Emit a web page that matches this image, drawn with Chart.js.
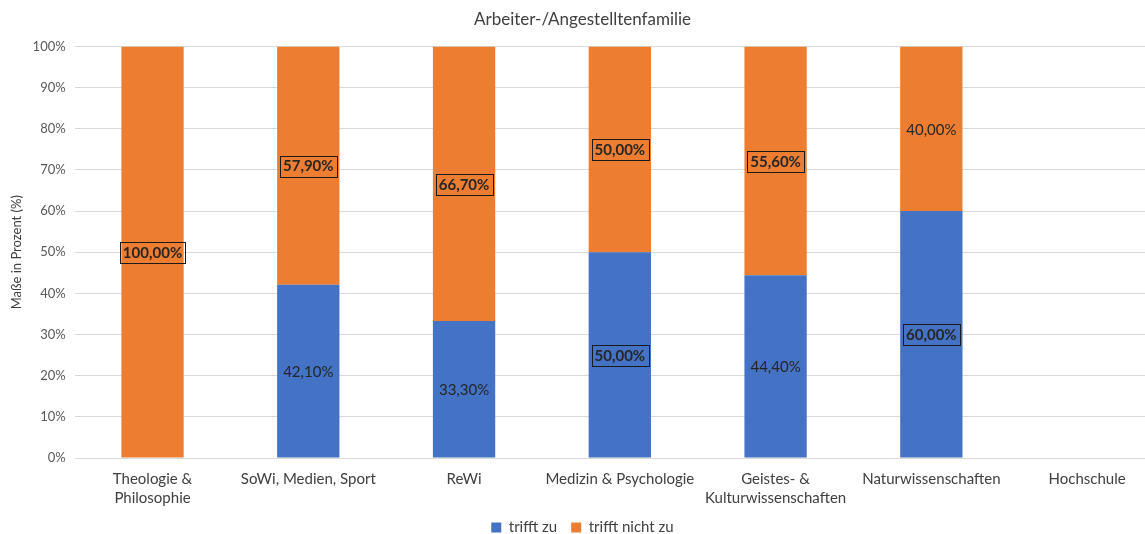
<!DOCTYPE html>
<html>
<head>
<meta charset="utf-8">
<script src="https://cdn.jsdelivr.net/npm/chart.js@4"></script>
<style>
  html, body { margin: 0; padding: 0; background: #fff; overflow: hidden; }
  #wrap { width: 1165px; height: 534px; }
</style>
</head>
<body>
<div id="wrap"><canvas id="familyChart" width="1165" height="534"></canvas></div>
<script>
const categories = [
    ['Theologie &', 'Philosophie'],
    'SoWi, Medien, Sport',
    'ReWi',
    'Medizin & Psychologie',
    ['Geistes- &', 'Kulturwissenschaften'],
    'Naturwissenschaften',
    'Hochschule'
];
const trifftZu = [0, 42.1, 33.3, 50, 44.4, 60, null];
const trifftNichtZu = [100, 57.9, 66.7, 50, 55.6, 40, null];
// which labels get the bold framed look
const boxedZu = [false, false, false, true, false, true, false];
const boxedNichtZu = [true, true, true, true, true, false, false];
const yTicks = [0, 10, 20, 30, 40, 50, 60, 70, 80, 90, 100];

const FONT = 'Lato, "Open Sans", sans-serif';

const fmt = v => v.toFixed(2).replace('.', ',') + '%';

const valueLabels = {
    id: 'valueLabels',
    afterDatasetsDraw(chart) {
        const ctx = chart.ctx;
        chart.data.datasets.forEach((ds, di) => {
            const meta = chart.getDatasetMeta(di);
            meta.data.forEach((bar, i) => {
                const v = ds.data[i];
                if (v === null || v === 0) return;
                const p = bar.getCenterPoint();
                const boxed = ds.boxed[i];
                const text = fmt(v);
                ctx.save();
                ctx.font = (boxed ? 'bold ' : '') + '15px ' + FONT;
                ctx.textAlign = 'center';
                ctx.textBaseline = 'middle';
                ctx.fillStyle = '#262626';
                ctx.fillText(text, p.x, p.y + 1);
                if (boxed) {
                    const w = ctx.measureText(text).width + 6;
                    ctx.strokeStyle = '#1a1a1a';
                    ctx.lineWidth = 1;
                    ctx.strokeRect(Math.round(p.x - w / 2) + 0.5, Math.round(p.y - 10) + 0.5, Math.round(w), 21);
                }
                ctx.restore();
            });
        });
    }
};

new Chart(document.getElementById('familyChart').getContext('2d'), {
    type: 'bar',
    data: {
        labels: categories,
        datasets: [{
            label: 'trifft zu',
            data: trifftZu,
            boxed: boxedZu,
            backgroundColor: '#4472c4',
            barPercentage: 0.4,
            categoryPercentage: 1
        }, {
            label: 'trifft nicht zu',
            data: trifftNichtZu,
            boxed: boxedNichtZu,
            backgroundColor: '#ed7d31',
            barPercentage: 0.4,
            categoryPercentage: 1
        }]
    },
    options: {
        responsive: false,
        animation: false,
        layout: { padding: { left: 0, right: 0, top: 7, bottom: -11 } },
        plugins: {
            title: {
                display: true,
                text: 'Arbeiter-/Angestelltenfamilie',
                color: '#404040',
                font: { family: FONT, size: 17, weight: 'normal' },
                padding: { top: 2, bottom: 17 }
            },
            legend: {
                position: 'bottom',
                labels: {
                    color: '#404040',
                    font: { family: FONT, size: 15 },
                    boxWidth: 10,
                    boxHeight: 10,
                    padding: 14
                }
            },
            tooltip: { enabled: false }
        },
        scales: {
            x: {
                stacked: true,
                grid: { display: false, drawTicks: false },
                border: { display: false },
                ticks: {
                    color: '#404040',
                    font: { family: FONT, size: 15, lineHeight: 1.3 },
                    maxRotation: 0,
                    autoSkip: false,
                    padding: 11
                },
                // tighten the gap between the two-line labels and the legend
                afterFit: scale => { scale.height -= 13; }
            },
            y: {
                stacked: true,
                min: 0,
                max: 100,
                afterBuildTicks: axis => { axis.ticks = yTicks.map(v => ({ value: v })); },
                grid: { color: '#d9d9d9', drawTicks: false },
                border: { display: false },
                ticks: {
                    color: '#595959',
                    font: { family: FONT, size: 13 },
                    padding: 9,
                    callback: v => v + '%'
                },
                title: {
                    display: true,
                    text: 'Maße in Prozent (%)',
                    color: '#404040',
                    font: { family: FONT, size: 13 },
                    padding: { top: 9, bottom: -1 }
                }
            }
        }
    },
    plugins: [valueLabels]
});
</script>
</body>
</html>
